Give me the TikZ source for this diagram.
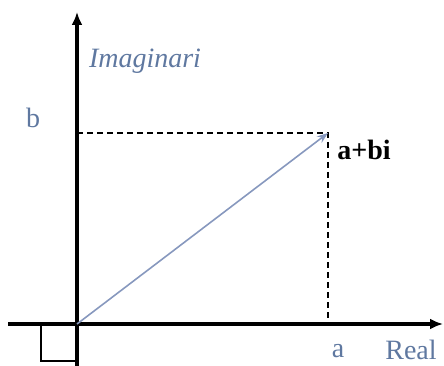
\documentclass[tikz,border=0pt]{standalone}
\usepackage{fontspec}
\setmainfont{Liberation Serif}
\usetikzlibrary{arrows.meta}
\definecolor{blauet}{RGB}{95,120,160}
\definecolor{vectorc}{RGB}{135,152,190}

\begin{document}
\begin{tikzpicture}[x=1pt,y=-1pt,
    eix/.style={line width=3.5pt,-{Latex[length=13pt,width=11pt]}},
    puntejat/.style={line width=1.6pt,dash pattern=on 6pt off 4pt},
    etiqueta/.style={font=\fontsize{28}{32}\selectfont,text=blauet}]
        \useasboundingbox (0,0) rectangle (444,366);
        % Punts: origen, afix i projeccions
        \coordinate (O) at (77,324);
        \coordinate (xesq) at (8,324);
        \coordinate (xdre) at (443,324);
        \coordinate (ybaix) at (77,370);
        \coordinate (ydalt) at (77,12);
        \coordinate (z) at (328,133);
        \coordinate (za) at (328,324);
        \coordinate (zb) at (77,133);
        % Eixos real i imaginari
        \draw[eix] (xesq) -- (xdre);
        \draw[eix] (ybaix) -- (ydalt);
        % Projeccions
        \draw[puntejat] (zb) -- (z) -- (za);
        % Vector
        \draw[vectorc,line width=1.6pt,-{Stealth[length=11pt,width=8pt]}] (O) -- (z);
        \draw[line width=1.5pt] (41,324) -- (41,361) -- (77,361); % Quadret
        \node[etiqueta,font=\fontsize{28}{32}\selectfont\itshape] (imag) at (145,61) {Imaginari};
        \node[etiqueta] (real) at (411,350) {Real};
        \node[etiqueta] (b) at (33,118) {b};
        \node[etiqueta,anchor=base,inner sep=0pt] (a) at (338,357) {a};
        \node[font=\fontsize{28}{32}\selectfont\bfseries] (afix) at (364,150) {a+bi};
\end{tikzpicture}
\end{document}
